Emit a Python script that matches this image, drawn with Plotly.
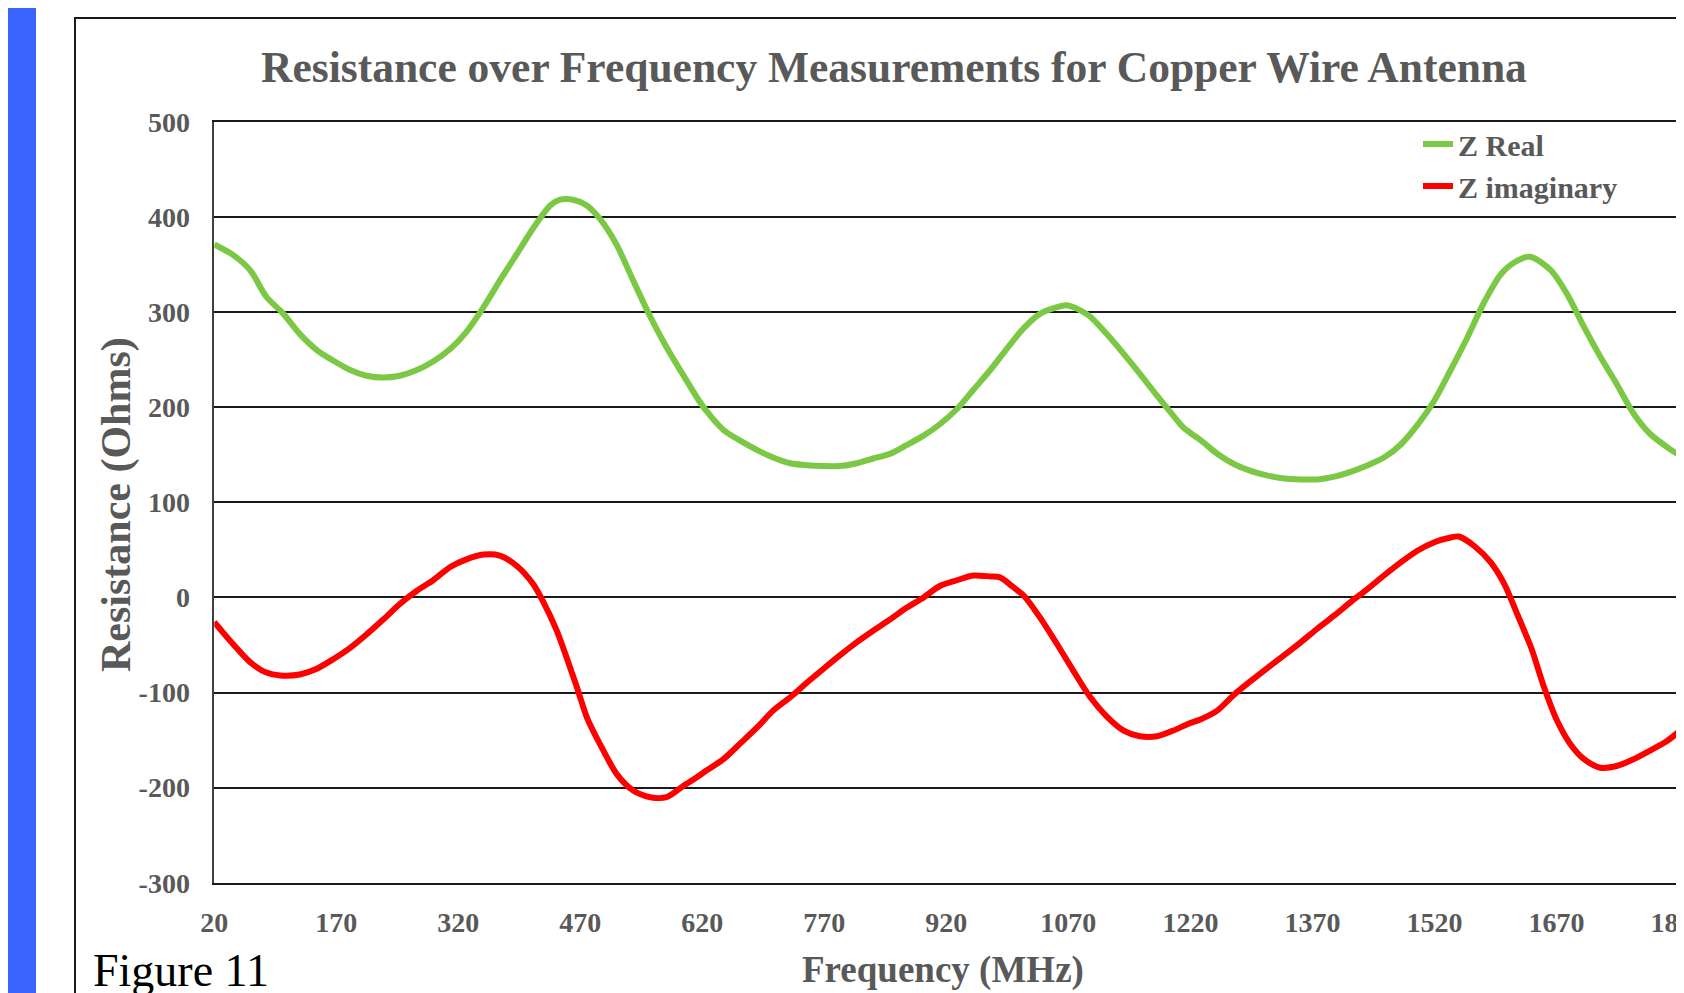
import plotly.graph_objects as go

# page has an 8px body margin, so the figure is placed at (8, 8) in the window
OFF = 8
W, H = 1684 - OFF, 993 - OFF

# ---------------- data ----------------
freq_real = [20, 43, 64, 84, 105, 125, 146, 166, 187, 207, 228, 248, 269, 289, 310, 330, 351, 371,
             392, 412, 433, 445, 461, 478, 494, 515, 535, 556, 576, 597, 615, 625, 646, 666, 687,
             707, 728, 748, 769, 789, 810, 830, 851, 871, 892, 912, 933, 953, 974, 994, 1014, 1035,
             1056, 1068, 1084, 1097, 1117, 1138, 1158, 1179, 1199, 1212, 1233, 1253, 1274, 1294,
             1315, 1335, 1356, 1376, 1397, 1417, 1438, 1458, 1479, 1499, 1520, 1540, 1561, 1581,
             1602, 1622, 1638, 1663, 1683, 1704, 1724, 1745, 1765, 1785, 1806, 1822]
z_real = [371, 360, 344, 316, 298, 277, 260, 249, 239, 233, 231, 233, 239, 248, 261, 279, 305, 333,
          361, 388, 412, 418, 418, 412, 398, 370, 333, 295, 263, 233, 208, 196, 176, 165, 155,
          147, 141, 139, 138, 138, 141, 146, 151, 160, 170, 182, 198, 218, 239, 261, 282, 298,
          305, 307, 302, 295, 277, 256, 235, 212, 191, 178, 165, 151, 140, 133,
          128, 125, 124, 124, 127, 132, 139, 147, 161, 181, 207, 239, 274, 310,
          340, 354, 358, 344, 319, 284, 253, 223, 193, 172, 158, 149]

freq_imag = [20, 43, 64, 84, 101, 125, 146, 166, 187, 207, 228, 248, 269, 289, 310, 330, 351, 371,
             392, 412, 424, 441, 453, 466, 478, 494, 515, 535, 556, 576, 597, 615, 625, 646, 666,
             687, 707, 728, 748, 769, 789, 810, 830, 851, 871, 892, 912, 933, 953, 974, 986, 1002,
             1015, 1035, 1056, 1076, 1097, 1117, 1138, 1158, 1179, 1199, 1217, 1233, 1253, 1274,
             1294, 1315, 1335, 1356, 1376, 1397, 1417, 1438, 1458, 1479, 1499, 1520, 1540, 1550,
             1569, 1589, 1606, 1622, 1639, 1655, 1671, 1687, 1704, 1724, 1745, 1765, 1785, 1806, 1822]
z_imag = [-26, -49, -68, -79, -82, -81, -75, -65, -53, -39, -23, -7, 7, 18, 32, 40, 45, 44,
          33, 14, -4, -35, -63, -95, -126, -154, -186, -203, -210, -210, -198, -188, -182, -170, -154,
          -137, -119, -105, -90, -75, -61, -47, -35, -23, -11, 0, 12, 18, 23, 22, 21, 11,
          2, -21, -49, -77, -105, -125, -140, -146, -146, -140, -133, -128, -119, -102,
          -88, -74, -61, -47, -33, -19, -5, 9, 23, 37, 49, 58, 63, 64,
          54, 37, 14, -18, -53, -95, -130, -154, -170, -179, -177, -170, -161, -151, -140]

x_ticks = [20, 170, 320, 470, 620, 770, 920, 1070, 1220, 1370, 1520, 1670, 1820]
y_ticks = [-300, -200, -100, 0, 100, 200, 300, 400, 500]
y_tick_labels = ["-300", "-200", "-100", "0", "100", "200", "300", "400", "500"]

title_text = "Resistance over Frequency Measurements for Copper Wire Antenna"
x_title = "Frequency (MHz)"
y_title = "Resistance (Ohms)"
caption = "Figure 11"

# ---------------- layout geometry (window pixels) ----------------
PLOT_L, PLOT_R = 214.3, 1684
PLOT_T, PLOT_B = 121.7, 882.8
X_MIN = 20
X_MAX = 20 + (PLOT_R - PLOT_L) / 0.8134


def px(x):
    return (x - OFF) / W


def py(y):
    return 1 - (y - OFF) / H


GRAY = "#595959"
SERIF = "Liberation Serif, Times New Roman, serif"

fig = go.Figure()
fig.add_trace(go.Scatter(x=freq_real, y=z_real, mode="lines", name="<b>Z Real</b>",
                         line=dict(color="#7BC844", width=6, shape="spline", smoothing=0.8),
                         legendgroup="a"))
fig.add_trace(go.Scatter(x=freq_imag, y=z_imag, mode="lines", name="<b>Z imaginary</b>",
                         line=dict(color="#FF0000", width=6, shape="spline", smoothing=0.8),
                         legendgroup="b"))

fig.update_layout(
    width=W, height=H,
    margin=dict(l=0, r=0, t=0, b=0),
    paper_bgcolor="white", plot_bgcolor="white",
    showlegend=True,
    legend=dict(x=px(1418), y=py(118), xanchor="left", yanchor="top",
                font=dict(family=SERIF, size=30, color=GRAY),
                bgcolor="rgba(0,0,0,0)", tracegroupgap=0, itemwidth=30),
    xaxis=dict(domain=[px(PLOT_L), 1.0], range=[X_MIN, X_MAX],
               tickvals=x_ticks, ticktext=[str(v) for v in x_ticks],
               showgrid=False, zeroline=False, showline=True, linecolor="#1a1a1a",
               linewidth=1.5, mirror=True, ticks="", automargin=False,
               ticklabeloverflow="allow",
               tickfont=dict(family=SERIF, size=28, color=GRAY, weight="bold"),
               ticklabelstandoff=14),
    yaxis=dict(domain=[py(PLOT_B), py(PLOT_T)], range=[-300, 500],
               tickvals=y_ticks, ticktext=y_tick_labels,
               showgrid=True, gridcolor="#1a1a1a", gridwidth=1.5,
               zeroline=False, showline=True, linecolor="#404040", linewidth=1.5,
               ticks="", automargin=False,
               tickfont=dict(family=SERIF, size=28, color=GRAY, weight="bold"),
               ticklabelstandoff=17),
    shapes=[
        dict(type="rect", xref="paper", yref="paper", x0=-0.01, x1=px(36), y0=-0.01, y1=1.01,
             fillcolor="#3A66FF", line=dict(width=0), layer="above"),
        dict(type="rect", xref="paper", yref="paper", x0=px(75), x1=px(1710), y0=py(1010), y1=py(18),
             fillcolor="rgba(0,0,0,0)", line=dict(color="#1a1a1a", width=2), layer="below"),
    ],
    annotations=[
        dict(text="<b>" + title_text + "</b>", x=px(894), y=py(67), xref="paper", yref="paper",
             xanchor="center", yanchor="middle", showarrow=False,
             font=dict(family=SERIF, size=43.5, color=GRAY)),
        dict(text="<b>" + y_title + "</b>", x=px(116), y=py(505), xref="paper", yref="paper",
             xanchor="center", yanchor="middle", showarrow=False, textangle=-90,
             font=dict(family=SERIF, size=42, color=GRAY)),
        dict(text="<b>" + x_title + "</b>", x=px(943), y=py(970), xref="paper", yref="paper",
             xanchor="center", yanchor="middle", showarrow=False,
             font=dict(family=SERIF, size=37, color=GRAY)),
        dict(text=caption, x=px(91), y=py(970), xref="paper", yref="paper",
             xanchor="left", yanchor="middle", showarrow=False,
             font=dict(family=SERIF, size=46, color="black")),
    ],
)

fig.write_html("out.html")
